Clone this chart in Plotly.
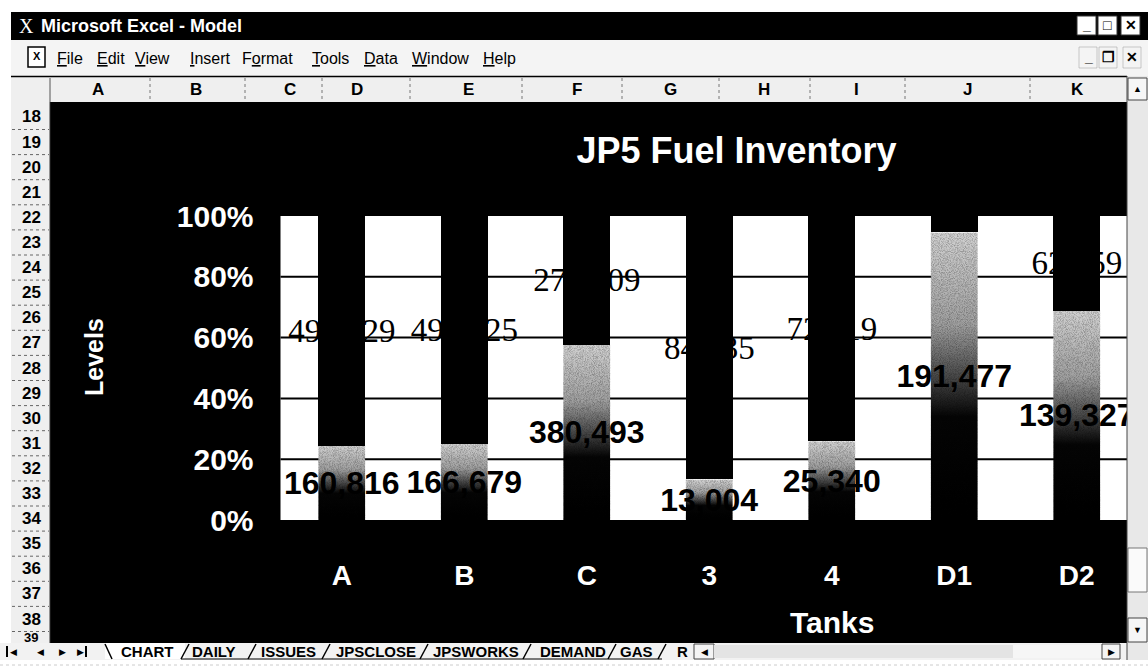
import base64
import plotly.graph_objects as go

W, H = 1148, 671
SANS = "Liberation Sans, Arial, sans-serif"
SERIF = "Liberation Serif, Times New Roman, serif"

# ---- chart data -------------------------------------------------------------
tanks = ["A", "B", "C", "3", "4", "D1", "D2"]
fuel_bbl = [160816, 166679, 380493, 13004, 25340, 191477, 139327]
ullage_bbl = [495829, 497825, 279609, 84435, 72519, 10950, 62859]
ullage_label_shown = [True, True, True, True, True, False, True]
level_ticks = [0, 20, 40, 60, 80, 100]
level_tick_text = ["0%", "20%", "40%", "60%", "80%", "100%"]
grid_levels = [20, 40, 60, 80]

chart_title = "JP5 Fuel Inventory"
x_title = "Tanks"
y_title = "Levels"

# ---- spreadsheet window text ------------------------------------------------
window_title = "Microsoft Excel - Model"
menu_items = ["File", "Edit", "View", "Insert", "Format", "Tools", "Data", "Window", "Help"]
menu_hotkey = [0, 0, 0, 0, 1, 0, 0, 0, 0]
menu_x = [70, 111, 152, 210, 267, 330, 381, 440, 500]
column_letters = ["A", "B", "C", "D", "E", "F", "G", "H", "I", "J", "K"]
column_x = [98, 196, 290, 357, 468, 577, 670, 764, 856, 967, 1077]
column_edges = [150, 245, 322, 410, 522, 622, 719, 810, 905, 1030]
row_numbers = list(range(18, 40))
sheet_tabs = ["CHART", "DAILY", "ISSUES", "JPSCLOSE", "JPSWORKS", "DEMAND", "GAS", "R"]
tab_x = [147, 214, 288, 376, 476, 573, 636, 682]
tab_edges = [105, 185, 252, 326, 424, 527, 612, 662, 692]


def fx(px):
    return px / W


def fy(py):
    return 1 - py / H


shapes = []
annots = []


def rect(x0, y0, x1, y1, fill, line=None, lw=0, layer="below"):
    shapes.append(dict(type="rect", xref="paper", yref="paper",
                       x0=fx(x0), x1=fx(x1), y0=fy(y1), y1=fy(y0),
                       fillcolor=fill, line=dict(color=line or fill, width=lw),
                       layer=layer))


def seg(x0, y0, x1, y1, color, lw=1, dash="solid", layer="below"):
    shapes.append(dict(type="line", xref="paper", yref="paper",
                       x0=fx(x0), x1=fx(x1), y0=fy(y0), y1=fy(y1),
                       line=dict(color=color, width=lw, dash=dash), layer=layer))


def text(x, y, s, size, color="black", bold=False, family=SANS,
         xanchor="center", angle=0):
    annots.append(dict(xref="paper", yref="paper", x=fx(x), y=fy(y), text=s,
                       showarrow=False, xanchor=xanchor, yanchor="middle",
                       textangle=angle, borderpad=0,
                       font=dict(family=family, size=size, color=color,
                                 weight="bold" if bold else "normal")))


# ---- window frame -----------------------------------------------------------
rect(0, 0, W, 12, "white")
rect(0, 0, 11, H, "white")
rect(11, 12, W, 40, "black")
text(26, 26, "X", 20, "white", family=SERIF)
text(40, 26, window_title, 18, "white", bold=True, xanchor="left")
for bx, glyph in zip([1077, 1098, 1121], ["_", "□", "✕"]):
    rect(bx, 16, bx + 19, 35, "white", "#333", 1)
    text(bx + 9.5, 25.5, glyph, 14, "black", bold=True)

# menu bar
rect(11, 40, W, 76, "#f4f4f4")
rect(28, 47, 45, 67, "white", "black", 1.5)
text(36.5, 56, "X", 11, "black", bold=True)
for name, hk, mx in zip(menu_items, menu_hotkey, menu_x):
    s = name[:hk] + "<u>" + name[hk] + "</u>" + name[hk + 1:]
    text(mx, 58, s, 16, "black")
for bx, glyph in zip([1079, 1099, 1123], ["_", "❐", "✕"]):
    rect(bx, 47, bx + 18, 68, "#f4f4f4", "#999", 0.5)
    text(bx + 9, 57.5, glyph, 14, "black", bold=True)

# column headers
rect(11, 76, 1127, 102, "#efefef")
seg(11, 76.5, 1127, 76.5, "black", 1.5)
for cx in column_edges:
    seg(cx, 78, cx, 101, "#777", 1, "dot")
seg(50, 78, 50, 102, "#555", 1)
for letter, cx in zip(column_letters, column_x):
    text(cx, 89.5, letter, 17, "black", bold=True)

# row headers (the last row is cut off by the sheet tab strip)
rect(11, 102, 50, 643, "#efefef")
seg(50, 102, 50, 643, "#333", 1)
for k, n in enumerate(row_numbers):
    ry = 117 + k * 25.1
    seg(12, ry + 12.5, 49, ry + 12.5, "#666", 1, "dot")
    if ry + 9 < 643:
        text(31, ry, str(n), 17, "black", bold=True)
    else:
        text(31, 637.5, str(n), 13, "black", bold=True)

# sheet tabs and horizontal scroll bar
rect(0, 643, W, 660, "#f2f2f2")
rect(0, 660, W, H, "white")
seg(0, 665, W, 665, "#cccccc", 1, "dot")
rect(tab_edges[0], 643, tab_edges[1], 659, "white")
for gx, glyph in zip([13, 40, 62, 80], ["◀", "◀", "▶", "▶"]):
    text(gx, 651.5, glyph, 9, "black")
seg(7, 646, 7, 657, "black", 2)
seg(86, 646, 86, 657, "black", 2)
seg(tab_edges[0], 644, tab_edges[0] + 7, 659, "black", 1.5)
for ex in tab_edges[1:-1]:
    seg(ex + 4, 644, ex - 4, 659, "black", 1.5)
seg(tab_edges[1] - 4, 659, tab_edges[-2], 659, "black", 1)
for name, tx in zip(sheet_tabs, tab_x):
    text(tx, 651.5, name, 15, "black", bold=True)
rect(694, 644, 714, 659, "#f4f4f4", "#444", 1)
text(704, 651.5, "◀", 9, "black")
rect(714, 645, 1013, 658, "#e4e4e4")
rect(1013, 645, 1102, 658, "#f6f6f6")
rect(1102, 644, 1120, 659, "#f4f4f4", "#444", 1)
text(1111, 651.5, "▶", 9, "black")

# vertical scroll bar (drawn over the clipped right edge of the chart)
rect(1127, 76, W, 660, "#e8e8e8", layer="above")
rect(1128, 78, 1147, 100, "#f6f6f6", "#444", 1, layer="above")
text(1137.5, 89, "▲", 9, "black")
rect(1128, 548, 1147, 592, "#fafafa", "#777", 1, layer="above")
rect(1128, 618, 1147, 642, "#f6f6f6", "#444", 1, layer="above")
text(1137.5, 630, "▼", 9, "black")
seg(1127, 76, 1127, 660, "#444", 1, layer="above")

# ---- chart ------------------------------------------------------------------
bar_frac = 0.384
fuel_pct = [100.0 * f / (f + u) for f, u in zip(fuel_bbl, ullage_bbl)]

fig = go.Figure()
# fuel segment: the outline is transparent, the shaded fill is a gradient image
fig.add_bar(
    x=tanks, y=fuel_bbl, name="Fuel",
    marker=dict(color="rgba(0,0,0,0)", line=dict(width=0)),
    text=[f"{v:,}" for v in fuel_bbl], textposition="inside",
    insidetextanchor="middle", textangle=0, constraintext="none",
    textfont=dict(family=SANS, size=32, color="black", weight="bold"),
    hoverinfo="skip",
)
fig.add_bar(
    x=tanks, y=ullage_bbl, name="Space",
    marker=dict(color="black", line=dict(width=0)),
    text=[f"{v:,}" if s else "" for v, s in zip(ullage_bbl, ullage_label_shown)],
    textposition="inside", insidetextanchor="middle", textangle=0,
    constraintext="none",
    textfont=dict(family=SERIF, size=33, color="black"),
    hoverinfo="skip",
)

# light-to-black fill with a fine dither grain
grad_svg = (
    '<svg xmlns="http://www.w3.org/2000/svg" width="48" height="300" '
    'viewBox="0 0 48 300" preserveAspectRatio="none">'
    '<defs><linearGradient id="g" x1="0" y1="0" x2="0" y2="1">'
    '<stop offset="0" stop-color="#d2d2d2"/>'
    '<stop offset="0.32" stop-color="#a0a0a0"/>'
    '<stop offset="0.64" stop-color="#050505"/>'
    '<stop offset="1" stop-color="#000000"/>'
    '</linearGradient>'
    '<filter id="n" x="0" y="0" width="100%" height="100%">'
    '<feTurbulence type="fractalNoise" baseFrequency="1.1" numOctaves="1" seed="7"/>'
    '<feColorMatrix type="matrix" values="0 0 0 0 0  0 0 0 0 0  0 0 0 0 0  0 0 0 1.4 -0.55"/>'
    '</filter></defs>'
    '<rect width="48" height="300" fill="url(#g)"/>'
    '<rect width="48" height="300" filter="url(#n)" opacity="0.5"/></svg>'
)
grad_src = "data:image/svg+xml;base64," + base64.b64encode(grad_svg.encode()).decode()
images = [
    dict(source=grad_src, xref="x", yref="y", x=t, y=p, sizex=bar_frac, sizey=p,
         xanchor="center", yanchor="top", sizing="stretch", layer="below")
    for t, p in zip(tanks, fuel_pct)
]

# value gridlines sit under the bars
for lv in grid_levels:
    shapes.append(dict(type="line", xref="x domain", yref="y", x0=0, x1=1,
                       y0=lv, y1=lv, line=dict(color="black", width=2),
                       layer="below"))

text(94, 357, y_title, 25, "white", bold=True, angle=-90)
text(831.5, 622, x_title, 30, "white", bold=True)

fig.update_layout(
    width=W, height=H, autosize=False,
    template="none",
    margin=dict(l=0, r=0, t=0, b=0, pad=0, autoexpand=False),
    paper_bgcolor="black", plot_bgcolor="white",
    barmode="stack", barnorm="percent", bargap=1 - bar_frac,
    showlegend=False,
    title=dict(text=chart_title, x=fx(736.5), y=fy(150), xref="paper",
               yref="paper", xanchor="center", yanchor="middle",
               font=dict(family=SANS, size=36, color="white", weight="bold")),
    xaxis=dict(type="category", domain=[fx(280.5), fx(1138)],
               showgrid=False, zeroline=False, showline=False, ticks="",
               automargin=False, ticklabelstandoff=36,
               tickfont=dict(family=SANS, size=28, color="white", weight="bold")),
    yaxis=dict(domain=[fy(520), fy(216)], range=[0, 100],
               tickvals=level_ticks, ticktext=level_tick_text, showgrid=False,
               zeroline=False, showline=False, ticks="", automargin=False,
               ticklabelstandoff=26,
               tickfont=dict(family=SANS, size=30, color="white", weight="bold")),
    shapes=shapes, annotations=annots, images=images,
)

fig.write_html("out.html")
